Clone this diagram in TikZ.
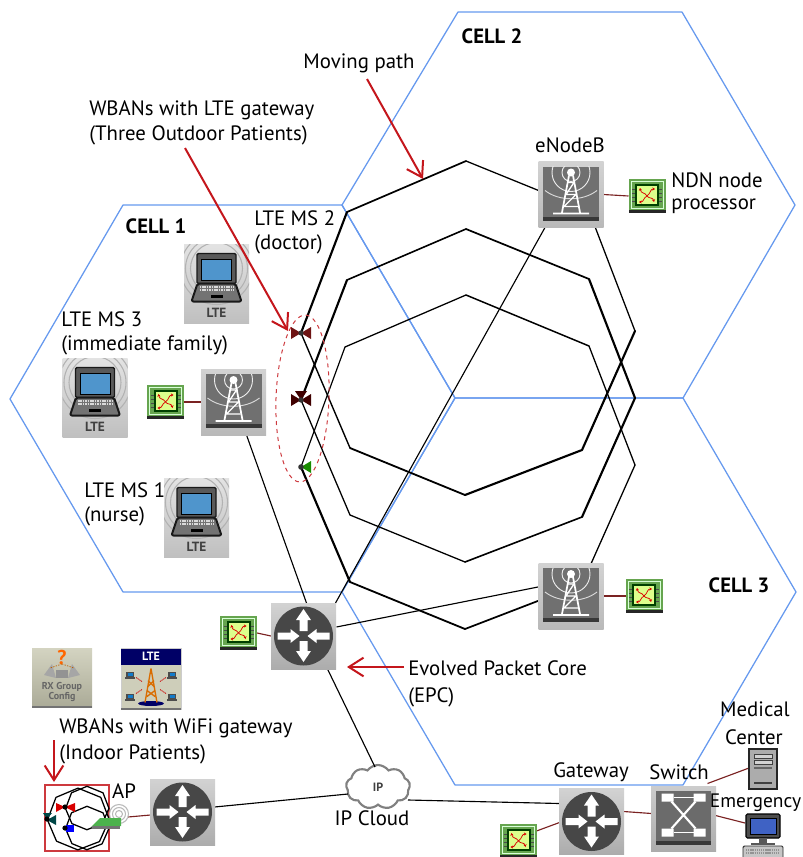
\documentclass[tikz,border=0pt]{standalone}
\usepackage{fontspec}
\setmainfont{PT Sans}
\usetikzlibrary{arrows.meta,calc,shapes.symbols,shapes.geometric}
\definecolor{hexblue}{HTML}{6699EE}
\definecolor{arrred}{HTML}{C4161C}
\definecolor{linkred}{HTML}{7A2222}
\definecolor{wine}{HTML}{6E1414}
\definecolor{chipgreen}{HTML}{66A54F}
\definecolor{beige}{HTML}{C9C9B2}
\definecolor{scrblue}{HTML}{4F95CC}
\definecolor{pcblue}{HTML}{3F62C4}
\tikzset{
  hold/.style n args={2}{minimum width=#1*0.75pt,minimum height=#2*0.75pt,inner sep=0pt,outer sep=0pt,rectangle},
  hexa/.style={draw=hexblue,line width=0.95pt,line join=round},
  wire/.style={draw=black,line width=0.85pt},
  redwire/.style={draw=linkred,line width=0.85pt},
  redarrow/.style={draw=arrred,line width=1.5pt,-{Straight Barb[length=11pt,width=14pt,line width=1.5pt]}},
  lab/.style={font=\fontsize{15.6}{18}\selectfont,inner sep=0pt,align=center},
  labl/.style={font=\fontsize{15.6}{18}\selectfont,inner sep=0pt,anchor=west},
  cellname/.style={font=\fontsize{15.5}{18}\selectfont\bfseries,inner sep=0pt},
  iconRouter/.pic={
    \shade[top color=gray!35,bottom color=gray!65] (-32.5,-33) rectangle (32.5,33);
    \fill[black!72] (0,0) circle[radius=29.5];
    \fill[white] (0,-27)--(7.5,-16)--(4,-16)--(4,-5)--(-4,-5)--(-4,-16)--(-7.5,-16)--cycle;
    \fill[white] (0,26)--(7.5,15)--(4,15)--(4,5)--(-4,5)--(-4,15)--(-7.5,15)--cycle;
    \fill[white] (-4,0)--(-13,-7)--(-13,-3.5)--(-26,-3.5)--(-26,3.5)--(-13,3.5)--(-13,7)--cycle;
    \fill[white] (4,0)--(13,-7)--(13,-3.5)--(26,-3.5)--(26,3.5)--(13,3.5)--(13,7)--cycle;
  },
  iconTower/.pic={
    \shade[top color=gray!35,bottom color=gray!55] (-32.5,-33) rectangle (32.5,33);
    \fill[black!56] (-28,-28) rectangle (28,26);
    \fill[black!78] (-28,22) rectangle (28,26);
    \begin{scope}
      \clip (-28,-28) rectangle (28,22);
      \draw[white!85!gray,line width=0.7pt] (0,-22) circle[radius=9];
      \draw[white!85!gray,line width=0.7pt] (0,-22) circle[radius=19];
      \draw[white!70!gray,line width=0.7pt] (-26,-4) .. controls (-12,7) and (12,7) .. (26,-4);
    \end{scope}
    \fill[white] (0,-22) circle[radius=4];
    \draw[white,line width=1.3pt] (-2,-19)--(-9,18) (2,-19)--(9,18) (-18,19)--(18,19);
    \draw[white,line width=1pt] (-3,-12)--(3,-12)--(-5,0)--(5,0)--(-7,12)--(7,12);
  },
  iconCpu/.pic={
    \fill[chipgreen] (-18.5,-17) rectangle (18.5,14);
    \fill[black!85] (-18.5,14) rectangle (18.5,17);
    \draw[green!15!white,line width=0.5pt] (-16,-15) rectangle (16,12);
    \fill[black!75!green] (-12,-12) rectangle (12,10);
    \fill[green!30!yellow!45!white] (-10,-10) rectangle (10,8);
    \draw[black!70,line width=0.4pt] (-15,-7)--(-12,-7) (-15,-3)--(-12,-3) (-15,1)--(-12,1) (-15,5)--(-12,5) (12,-7)--(15,-7) (12,-3)--(15,-3) (12,1)--(15,1) (12,5)--(15,5);
    \begin{scope}[red!85!black,line width=0.55pt,-{Stealth[length=2pt,width=2.4pt]}]
      \draw (0,0) .. controls (-2,-4) and (-6,-2) .. (-7,-8);
      \draw (0,0) .. controls (4,-3) and (3,-7) .. (8,-7);
      \draw (0,0) .. controls (2,3) and (6,1) .. (7,6);
      \draw (0,0) .. controls (-4,2) and (-3,6) .. (-8,6);
    \end{scope}
  },
  iconLaptop/.pic={
    \shade[top color=gray!22,bottom color=gray!50] (-32.5,-39.5) rectangle (32.5,39.5);
    \begin{scope}
      \clip (-32.5,-39.5) rectangle (32.5,39.5);
      \draw[gray!60,line width=0.8pt] (0,-15) circle[radius=26] (0,-15) circle[radius=31] (0,-15) circle[radius=36];
    \end{scope}
    \fill[black!65,draw=black!90,line width=1pt,rounded corners=1pt] (-19.5,-30) rectangle (19.5,0);
    \fill[scrblue,draw=black,line width=0.5pt] (-15,-24) rectangle (15,-3.5);
    \fill[black!55,draw=black!90,line width=1.5pt,rounded corners=1.5pt,line join=round] (-19,0)--(19,0)--(25,18)--(-25,18)--cycle;
    \foreach \yy in {3.5,6.5}{\draw[gray!30,line width=1pt,dash pattern=on 1.2pt off 0.6pt] (-17,\yy)--(17,\yy);}
    \fill[black] (-6,11) rectangle (6,14);
    \node[font=\fontsize{10}{10}\selectfont\bfseries,text=black!75,inner sep=0pt] at (0,29) {LTE};
  },
  iconSwitch/.pic={
    \shade[top color=gray!40,bottom color=gray!65] (-32.5,-32.5) rectangle (32.5,32.5);
    \fill[black!58] (-27.5,-27.5) rectangle (27.5,26);
    \fill[black!78] (-27.5,22) rectangle (27.5,26);
    \fill[white] (-22,-25) rectangle (-10,-17) (22,-25) rectangle (10,-17) (-22,10) rectangle (-10,18) (22,10) rectangle (10,18);
    \draw[white,line width=1pt] (-10,-21)--(10,-21) (-10,14)--(10,14);
    \draw[white,line width=1.6pt] (-12,-17)--(12,10) (12,-17)--(-12,10);
  },
  iconServer/.pic={
    \fill[gray!65,draw=black!85,line width=0.8pt] (-14,-20) rectangle (14,20);
    \fill[gray!35,draw=black!75,line width=0.4pt] (-9,-15) rectangle (9,-11) (-9,-9) rectangle (9,-5);
    \fill[black!60] (-9,-2) rectangle (9,0);
    \fill[black!75] (-9,13) rectangle (9,15);
  },
  iconPc/.pic={
    \fill[black!70,draw=black,line width=0.8pt,rounded corners=1pt] (-17,-21) rectangle (17,3);
    \fill[pcblue,draw=black] (-13,-17) rectangle (13,-1);
    \fill[black!65] (-4,3) rectangle (4,8);
    \fill[black!65] (-12,8) rectangle (12,10);
    \fill[gray!45,draw=black!85,line width=0.7pt,rounded corners=1pt] (-20,11) rectangle (20,24);
    \draw[gray!85,line width=1pt,dash pattern=on 1pt off 0.6pt] (-17,15)--(17,15) (-17,18)--(17,18);
  },
  iconRx/.pic={
    \shade[top color=beige!80!white,bottom color=beige!85!black] (-30,-30) rectangle (30,29);
    \fill[black!55] (-30,28) rectangle (30,30);
    \node[font=\fontsize{15}{15}\selectfont\bfseries,text=orange!80!red,inner sep=0pt] at (0,-21) {?};
    \fill[gray!70] (-18,-3)--(-10,-14)--(-6,0)--cycle (18,-3)--(10,-14)--(6,0)--cycle;
    \fill[gray!85] (-6,-8) rectangle (6,0);
    \draw[orange!75!black,line width=0.5pt,dash pattern=on 1pt off 1pt] (0,-14)--(-12,-10) (0,-14)--(12,-10);
    \node[font=\fontsize{7.5}{8}\selectfont\bfseries,text=black!60,inner sep=0pt,align=center] at (0,14) {RX Group\\Config};
  },
  iconLte/.pic={
    \fill[beige!90!white,draw=gray!40,line width=0.3pt] (-30,-30) rectangle (30,31);
    \fill[blue!40!black] (-30,-30) rectangle (30,-14);
    \fill[black!55] (-30,29) rectangle (30,31);
    \node[font=\fontsize{9}{9}\selectfont\bfseries,text=white,inner sep=0pt] at (0,-22) {LTE};
    \fill[blue!40!black] (0,25) ellipse[x radius=13,y radius=2.5];
    \draw[orange!85!black,line width=1pt] (0,-10)--(-6,24) (0,-10)--(6,24) (-3,2)--(3,8) (3,2)--(-3,8) (-4,12)--(4,18) (4,12)--(-4,18);
    \foreach \xx/\yy in {-21/-4,21/-4,-21/18,21/18}{
      \fill[black!70] (\xx-4,\yy-3) rectangle (\xx+4,\yy+2);
      \fill[cyan!60!blue] (\xx-2.5,\yy-2) rectangle (\xx+2.5,\yy+1);
      \fill[black!70] (\xx-5,\yy+2) rectangle (\xx+5,\yy+4);
    }
    \draw[red!80!black,line width=0.6pt,dash pattern=on 1pt off 0.5pt] (-15,-1)--(-9,3) (15,-1)--(9,3) (-15,15)--(-9,11) (15,15)--(9,11);
  },
}
\begin{document}
\begin{tikzpicture}[x=0.75pt,y=-0.75pt]
\clip (0,0) rectangle (803,857);
% cells
\draw[hexa] (123,205)--(342,205)--(455,398)--(342,592)--(123,592)--(10,399)--cycle;
\draw[hexa] (458,12)--(682,12)--(795,205)--(683,398)--(455,398)--(342,205)--cycle;
\draw[hexa] (455,398)--(683,398)--(796,592)--(683,785)--(455,785)--(342,592)--cycle;
% named positions
\coordinate (mA) at (301,333);
\coordinate (mB) at (301,400);
\coordinate (mC) at (301,467);
\foreach \n/\xx/\yy in {a1/347/212,a2/466/161,a3/589/211,a4/635/331,a5/582/450,a6/465/495,a7/350/448,
  b1/347/280,b2/466/229,b3/589/279,b4/635/398,b5/582/517,b6/465/562,b7/350/515,
  c1/345/347,c2/466/295,c3/589/346,c4/635/465,c5/582/584,c6/465/629,c7/350/582}
  {\coordinate (\n) at (\xx,\yy);}
% moving paths
\foreach \u/\v/\w in {mA/a1/2.0,a1/a2/1.6,a2/a3/1.2,a3/a4/1.2,a4/a5/2.0,a5/a6/2.0,a6/a7/1.7,a7/mA/1.3,
  mB/b1/2.0,b1/b2/1.5,b2/b3/1.6,b3/b4/2.0,b4/b5/2.0,b5/b6/1.5,b6/b7/1.2,b7/mB/1.2,
  mC/c1/1.1,c1/c2/1.2,c2/c3/1.4,c3/c4/1.2,c4/c5/1.2,c5/c6/1.6,c6/c7/1.7,c7/mC/2.0}
  {\draw[black,line width=\w*0.8pt,line cap=round] (\u)--(\v);}
% dashed group
\node[draw=arrred!85,dashed,line width=0.75pt,ellipse,minimum width=53*0.75pt,minimum height=167*0.75pt,inner sep=0pt,rotate=-2] (grp) at (302.5,398.5) {};
% holders
\node[hold={65}{66}] (enbA) at (233.5,402) {};
\node[hold={65}{66}] (enbB) at (571,194.5) {};
\node[hold={65}{66}] (enbC) at (571,596) {};
\node[hold={65}{66}] (epc) at (303.5,636) {};
\node[hold={65}{66}] (gw) at (591.5,821.5) {};
\node[hold={65}{66}] (aprt) at (182.5,812) {};
\node[hold={65}{65}] (sw) at (683.5,818.5) {};
\node[hold={37}{34}] (cpuA) at (165.5,402) {};
\node[hold={37}{34}] (cpuB) at (647,196) {};
\node[hold={37}{34}] (cpuC) at (644,596) {};
\node[hold={37}{34}] (cpuE) at (238.5,633) {};
\node[hold={37}{34}] (cpuG) at (518.5,841) {};
\node[hold={28}{40}] (srv) at (763,769) {};
\node[hold={40}{44}] (pc) at (763,835) {};
\node[cloud,cloud puffs=9,cloud puff arc=110,aspect=1.5,draw=black!50,fill=white,line width=1.6pt,minimum width=64*0.75pt,minimum height=44*0.75pt,inner sep=0pt,font=\fontsize{9}{9}\selectfont\bfseries,text=black!75] (ipc) at (378,787) {IP};
\node[hold={20}{20}] (apico) at (119,814) {};
% links
\draw[wire] ($(enbB)+(-26,33)$)--($(epc)+(32,-33)$);
\draw[wire] ($(enbA)+(13,33)$)--($(epc)+(3,-33)$);
\draw[wire] ($(enbC)+(-33,-9)$)--($(epc)+(33,-9)$);
\draw[wire] ($(epc)+(24,33)$)--($(ipc)+(-3,-20)$);
\draw[wire] ($(aprt)+(32,-5)$)--($(ipc)+(-30,7)$);
\draw[wire] ($(ipc)+(30,13)$)--($(gw)+(-32,-18)$);
\draw[redwire] (cpuA.east)--(enbA.west);
\draw[redwire] (cpuB.west)--(enbB.east);
\draw[redwire] (enbC.east)--(cpuC.west);
\draw[redwire] (cpuE.east)--(epc.west);
\draw[redwire] ($(cpuG)+(18,-10)$)--($(gw)+(-32,1)$);
\draw[redwire] ($(gw)+(32,-10)$)--($(sw)+(-32,-5)$);
\draw[redwire] ($(sw)+(24,-35)$)--($(srv)+(-14,-1)$);
\draw[redwire] ($(sw)+(32,-3)$)--($(pc)+(-18,-12)$);
\draw[redwire] ($(apico)+(9,3)$)--($(aprt)+(-32,3)$);
% icons
\foreach \nn in {enbA,enbB,enbC}{\pic at (\nn) {iconTower};}
\foreach \nn in {epc,gw,aprt}{\pic at (\nn) {iconRouter};}
\foreach \nn in {cpuA,cpuB,cpuC,cpuE,cpuG}{\pic at (\nn) {iconCpu};}
\pic at (sw) {iconSwitch};
\pic at (srv) {iconServer};
\pic at (pc) {iconPc};
\node[hold={65}{79}] (ms2) at (216.5,283.5) {}; \pic at (ms2) {iconLaptop};
\node[hold={65}{79}] (ms3) at (95,397.5) {}; \pic at (ms3) {iconLaptop};
\node[hold={65}{79}] (ms1) at (196.5,517.5) {}; \pic at (ms1) {iconLaptop};
\node[hold={60}{60}] (rx) at (62,678) {}; \pic at (rx) {iconRx};
\node[hold={60}{61}] (ltecfg) at (151,678.5) {}; \pic at (ltecfg) {iconLte};
% mobiles
\fill[wine] ($(mA)+(-10,-6)$)--(mA)--($(mA)+(-10,6)$)--cycle ($(mA)+(10,-6)$)--(mA)--($(mA)+(10,6)$)--cycle;
\fill[black!80] (mA) circle[radius=2.6];
\fill[black!75!red] ($(mB)+(-10,-6)$)--(mB)--($(mB)+(-10,6)$)--cycle ($(mB)+(10,-6)$)--(mB)--($(mB)+(10,6)$)--cycle ($(mB)+(-6,-9)$)--(mB)--($(mB)+(6,-9)$)--cycle;
\fill[black!80] (mB) circle[radius=2.6];
\fill[green!50!black!90!yellow] ($(mC)+(10,-6)$)--(mC)--($(mC)+(10,6)$)--cycle;
\fill[black!80] (mC) circle[radius=2.8];
% mini WBAN
\node[hold={64}{66},draw=arrred!85,line width=0.9pt] (minibox) at (77,818) {};
\foreach \cx/\cy/\ss in {87/808/0.13,78/819/0.185,87/828/0.13}{
  \begin{scope}[shift={(\cx,\cy)},x=\ss*0.75pt,y=-\ss*0.75pt]
    \draw[black,line width=0.95pt,line join=round] (-119,-117)--(0,-167)--(123,-117)--(169,3)--(116,122)--(-1,167)--(-116,120)--(-165,5)--cycle;
  \end{scope}
}
\fill[red!85!black] (56,803)--(65,807)--(56,812)--cycle (75,803)--(65,807)--(75,812)--cycle;
\fill[black] (65,807) circle[radius=2.6];
\fill[teal!55!black] (43,813)--(47,819)--(52,813)--cycle (56,815)--(47,820)--(56,825)--cycle;
\fill[black] (47,819) circle[radius=2.6];
\fill[blue] (66,825) rectangle (74,832);
\fill[black] (65,828) circle[radius=2.6];
\draw[gray!55,line width=0.8pt] (apico) circle[radius=3.5] (apico) circle[radius=6.5] (apico) circle[radius=9.5];
\fill[green!40!gray] (91,827)--(100,818)--(121,818)--(121,826)--cycle;
\fill[black!55] (92,826) rectangle (120,829);
% red arrows
\coordinate (mpS) at (367,79); \coordinate (mpE) at (423,179);
\coordinate (wlS) at (185,148); \coordinate (wlE) at (288,331);
\coordinate (epS) at (404,667); \coordinate (epE) at (347,667);
\coordinate (wiS) at (54,740); \coordinate (wiE) at (54,782);
\draw[redarrow] (mpS)--(mpE);
\draw[redarrow] (wlS)--(wlE);
\draw[redarrow] (epS)--(epE);
\draw[redarrow] (wiS)--(wiE);
% labels
\node[cellname] (t1) at (156,226) {CELL 1};
\node[cellname] (t2) at (492,36) {CELL 2};
\node[cellname] (t3) at (739,585) {CELL 3};
\node[lab] (t4) at (359,63) {Moving path};
\node[labl] (t5) at (89,110) {WBANs with LTE gateway};
\node[labl] (t6) at (89,135) {(Three Outdoor Patients)};
\node[labl] (t7) at (254,218) {LTE MS 2};
\node[labl] (t8) at (254,244) {(doctor)};
\node[lab] (t9) at (570,145) {eNodeB};
\node[labl] (t10) at (671,180) {NDN node};
\node[labl] (t11) at (671,206) {processor};
\node[labl] (t12) at (61,319) {LTE MS 3};
\node[labl] (t13) at (61,345) {(immediate family)};
\node[labl] (t14) at (84,490) {LTE MS 1};
\node[labl] (t15) at (84,516) {(nurse)};
\node[labl] (t16) at (408,668) {Evolved Packet Core};
\node[labl] (t17) at (408,697) {(EPC)};
\node[labl] (t18) at (59,728) {WBANs with WiFi gateway};
\node[labl] (t19) at (59,754) {(Indoor Patients)};
\node[lab] (t20) at (124,791) {AP};
\node[lab] (t21) at (372,818) {IP Cloud};
\node[lab] (t22) at (591,772) {Gateway};
\node[lab] (t23) at (679,772) {Switch};
\node[lab] (t24) at (755,709) {Medical};
\node[lab] (t25) at (754,737) {Center};
\node[lab,anchor=east,font=\fontsize{14.6}{18}\selectfont] (t26) at (801.5,803) {Emergency};
\end{tikzpicture}
\end{document}
